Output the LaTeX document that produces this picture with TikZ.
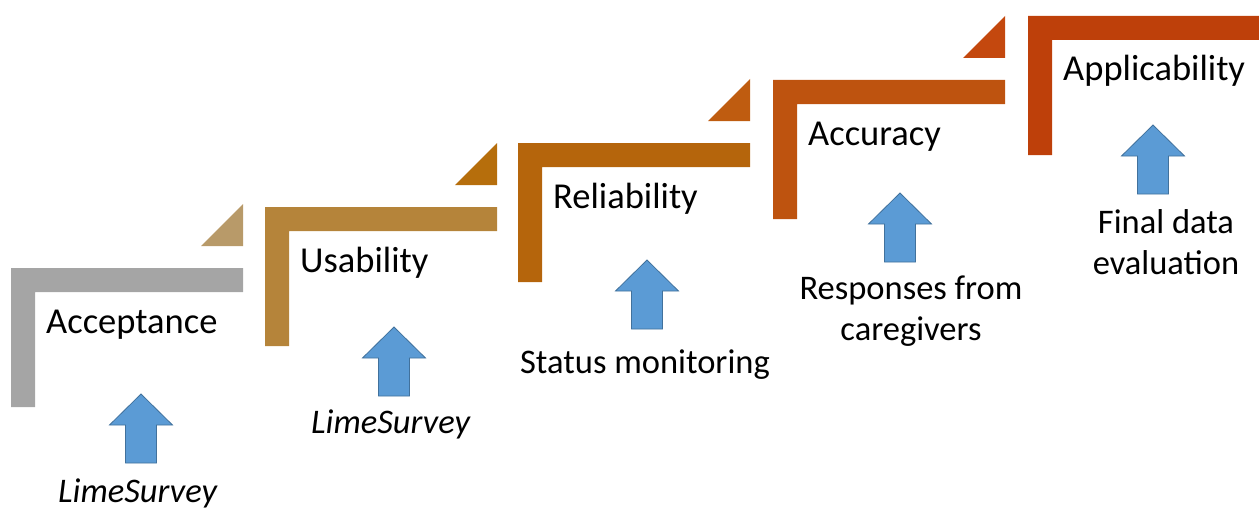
\documentclass[tikz,border=0pt]{standalone}
\usepackage{fontspec}
\setmainfont{Carlito}

\definecolor{stepgray}{HTML}{A5A5A5}
\definecolor{steptan}{HTML}{B5843A}
\definecolor{steporange}{HTML}{B5650C}
\definecolor{steprust}{HTML}{BE530F}
\definecolor{stepred}{HTML}{BE400A}
\definecolor{trigray}{HTML}{B89A69}
\definecolor{tritan}{HTML}{B66E0C}
\definecolor{triorange}{HTML}{BF5C10}
\definecolor{trirust}{HTML}{C4480E}
\definecolor{arrowblue}{HTML}{5B9BD5}
\definecolor{arrowedge}{HTML}{41719C}

\begin{document}
\begin{tikzpicture}[x=1pt,y=1pt]
    \tikzstyle{step label}=[anchor=base west,inner sep=0pt,font=\fontsize{36.5}{43}\selectfont]
    \tikzstyle{source}=[anchor=base,inner sep=0pt,align=center,font=\fontsize{34.5}{41}\selectfont]
    \tikzstyle{up arrow}=[fill=arrowblue,draw=arrowedge,line width=0.8pt]

    \useasboundingbox (0,0) rectangle (1259,-511);

    % Draw the steps.
    \foreach \name/\x/\y/\col in {1/11/268/stepgray,2/265/207/steptan,3/518/143/steporange,4/773/80/steprust,5/1028/16/stepred}
        \fill[\col] (\x,-\y) -- ++(232,0) -- ++(0,-24) -- ++(-208,0)
            -- ++(0,-115) -- ++(-24,0) -- cycle;

    % Draw the corner triangles.
    \foreach \x/\y/\col in {11/268/trigray,265/207/tritan,518/143/triorange,773/80/trirust}
        \fill[\col] ({\x+190},{-\y+22}) -- ++(42,0) -- ++(0,42) -- cycle;

    % Name the steps.
    \foreach \name/\x/\y/\lbl in {1/11/268/Acceptance,2/265/207/Usability,3/518/143/Reliability,4/773/80/Accuracy,5/1028/16/Applicability}
        \node[step label] (S-\name) at ({\x+35},{-\y-65}) {\lbl};

    % Draw the arrows.
    \foreach \name/\x/\y in {1/141/394,2/394/327,3/647/260,4/900/193,5/1153/125}
        \draw[up arrow] (\x,-\y) coordinate (T-\name) -- ++(31.5,-31) -- ++(-16,0)
            -- ++(0,-38) -- ++(-31,0) -- ++(0,38) -- ++(-16,0) -- cycle;

    % Sources under the arrows.
    \node[source] (C-1) at (138,-502) {\textit{LimeSurvey}};
    \node[source] (C-2) at (391,-433) {\textit{LimeSurvey}};
    \node[source] (C-3) at (645,-373) {Status monitoring};
    \node[source] (C-4) at (911,-340) {Responses from\\caregivers};
    \node[source] (C-5) at (1166,-274) {Final data\\evaluation};
\end{tikzpicture}
\end{document}
